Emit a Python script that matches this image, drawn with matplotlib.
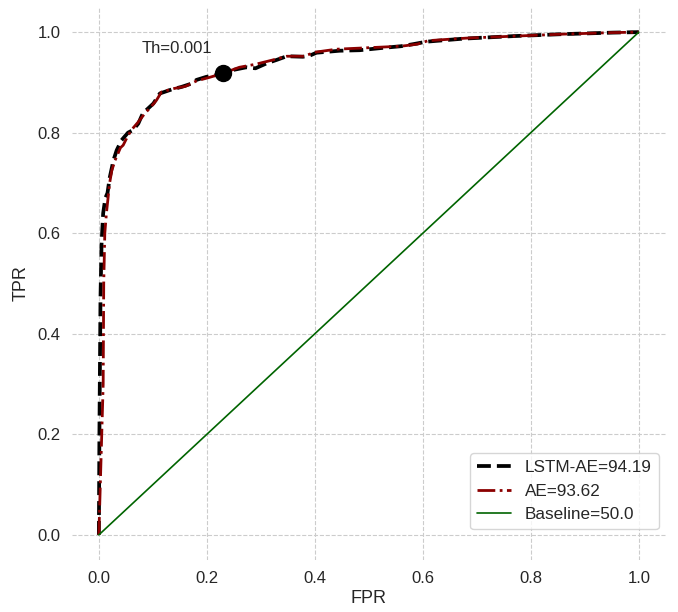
import matplotlib
matplotlib.use("Agg")
import matplotlib.pyplot as plt
import seaborn as sns

# ROC points
lstm_fpr = [0, 0.001, 0.003, 0.005, 0.008, 0.012, 0.016, 0.020, 0.027, 0.033,
            0.042, 0.054, 0.063, 0.073, 0.080, 0.088, 0.101, 0.113, 0.135, 0.153,
            0.170, 0.181, 0.199, 0.215, 0.230, 0.250, 0.273, 0.290, 0.311, 0.330,
            0.348, 0.378, 0.390, 0.403, 0.446, 0.483, 0.520, 0.560, 0.582, 0.607,
            0.675, 0.767, 0.860, 0.952, 1.0]
lstm_tpr = [0, 0.20, 0.47, 0.58, 0.64, 0.67, 0.68, 0.71, 0.745, 0.765,
            0.785, 0.80, 0.805, 0.818, 0.835, 0.845, 0.858, 0.878, 0.886, 0.891,
            0.897, 0.905, 0.911, 0.914, 0.918, 0.925, 0.930, 0.928, 0.938, 0.945,
            0.952, 0.951, 0.953, 0.959, 0.963, 0.964, 0.968, 0.972, 0.976, 0.981,
            0.987, 0.992, 0.996, 0.999, 1.0]

ae_fpr = [0, 0.008, 0.009, 0.011, 0.014, 0.017, 0.020, 0.024, 0.030, 0.040,
          0.045, 0.052, 0.060, 0.072, 0.085, 0.097, 0.107, 0.116, 0.140, 0.160,
          0.181, 0.205, 0.230, 0.260, 0.290, 0.320, 0.348, 0.380, 0.400, 0.440,
          0.480, 0.520, 0.560, 0.590, 0.610, 0.680, 0.770, 0.860, 0.950, 1.0]
ae_tpr = [0, 0.30, 0.50, 0.60, 0.64, 0.67, 0.70, 0.725, 0.745, 0.770,
          0.775, 0.790, 0.805, 0.820, 0.838, 0.852, 0.865, 0.881, 0.888, 0.892,
          0.903, 0.910, 0.918, 0.930, 0.936, 0.944, 0.952, 0.952, 0.960, 0.966,
          0.968, 0.970, 0.972, 0.976, 0.983, 0.988, 0.992, 0.996, 0.999, 1.0]

base_fpr = [0, 1]
base_tpr = [0, 1]

labels = ["LSTM-AE=94.19", "AE=93.62", "Baseline=50.0"]
th_point = (0.23, 0.918)
th_text = "Th=0.001"

sns.set_theme(style="whitegrid")
plt.rcParams['font.family'] = ['Liberation Sans', 'DejaVu Sans']
plt.rcParams['grid.linestyle'] = '--'
plt.rcParams['grid.color'] = '#cccccc'
plt.rcParams['grid.linewidth'] = 0.8

fig = plt.figure(figsize=(6.78, 6.12), dpi=100)
ax = fig.add_subplot(1, 1, 1)
fig.subplots_adjust(left=0.106, right=0.982, bottom=0.085, top=0.9886)

ax.plot(lstm_fpr, lstm_tpr, color="black", linestyle="--", linewidth=2.7, label=labels[0])
ax.plot(ae_fpr, ae_tpr, color="darkred", linestyle="-.", linewidth=2.0, label=labels[1])
ax.plot(base_fpr, base_tpr, color="darkgreen", linewidth=1.2, label=labels[2])
ax.plot(th_point[0], th_point[1], 'o', color="black", markersize=11.5)
ax.text(0.08, 0.958, th_text, fontsize=12, color="#262626", va="baseline")

ax.set_xlim(-0.05, 1.05)
ax.set_ylim(-0.05, 1.05)
ax.set_xticks([0, 0.2, 0.4, 0.6, 0.8, 1.0])
ax.set_yticks([0, 0.2, 0.4, 0.6, 0.8, 1.0])
ax.tick_params(labelsize=12, pad=8, length=0)
ax.set_xlabel("FPR", fontsize=13, labelpad=3)
ax.set_ylabel("TPR", fontsize=13, labelpad=6)
for s in ax.spines.values():
    s.set_visible(False)

ax.legend(loc="lower right", bbox_to_anchor=(0.988, 0.056), borderaxespad=0,
          fontsize=12.3, fancybox=True, facecolor="white", edgecolor="#cccccc")

fig.savefig("out.png", dpi=100)
